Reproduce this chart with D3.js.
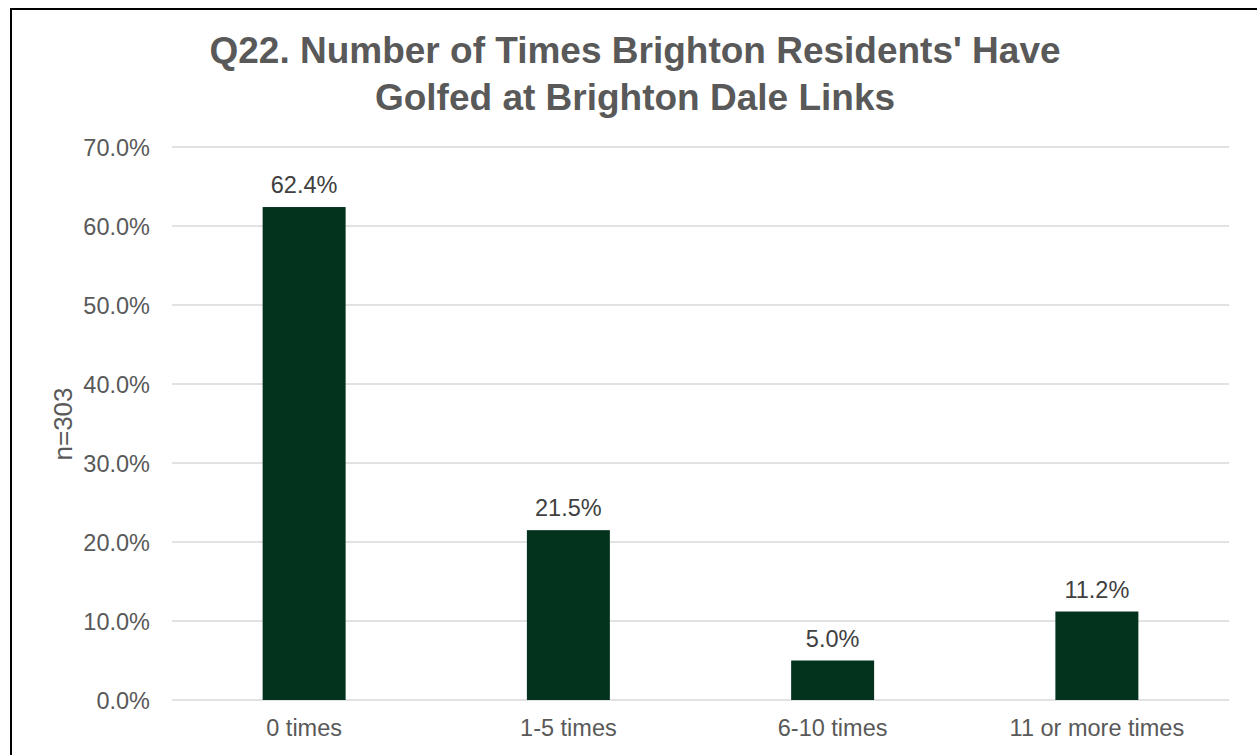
<!DOCTYPE html>
<html><head><meta charset="utf-8">
<script src="https://cdn.jsdelivr.net/npm/d3@7"></script>
<style>body{margin:0;background:#fff;}svg{display:block;font-family:"Liberation Sans",Arial,sans-serif;}</style>
</head><body>
<script>
const categories = ["0 times", "1-5 times", "6-10 times", "11 or more times"];
const values = [62.4, 21.5, 5.0, 11.2];
const yTicks = [0, 10, 20, 30, 40, 50, 60, 70];
const titleLines = ["Q22. Number of Times Brighton Residents' Have", "Golfed at Brighton Dale Links"];
const yAxisTitle = "n=303";

(function () {
const W = 1257, H = 755;
const FS = 23.5;
const svg = d3.select("body").append("svg").attr("width", W).attr("height", H);

// outer frame
svg.append("rect").attr("x", 11).attr("y", 9).attr("width", W + 10).attr("height", H + 10)
  .attr("fill", "none").attr("stroke", "#000").attr("stroke-width", 2);

const pLeft = 172, pRight = 1229, pTop = 147, pBottom = 700;
const x = d3.scaleBand().domain(categories).range([pLeft, pRight]).padding(0);
const y = d3.scaleLinear().domain([0, 70]).range([pBottom, pTop]);

// gridlines
svg.append("g").selectAll("line").data(yTicks).join("line")
  .attr("x1", pLeft).attr("x2", pRight)
  .attr("y1", d => y(d)).attr("y2", d => y(d))
  .attr("stroke", "#d9d9d9").attr("stroke-width", 1.3);

// y tick labels
const yAxis = d3.axisLeft(y).tickValues(yTicks).tickFormat(d => d.toFixed(1) + "%").tickSize(0).tickPadding(22);
const ya = svg.append("g").attr("transform", `translate(${pLeft},0)`).call(yAxis);
ya.select(".domain").remove();
ya.selectAll("text").attr("font-size", FS).attr("fill", "#595959").attr("font-family", "Liberation Sans, Arial, sans-serif").attr("dy", "0.35em");

// x axis labels
const xAxis = d3.axisBottom(x).tickSize(0).tickPadding(19);
const xa = svg.append("g").attr("transform", `translate(0,${pBottom})`).call(xAxis);
xa.select(".domain").remove();
xa.selectAll("text").attr("font-size", FS).attr("fill", "#595959").attr("font-family", "Liberation Sans, Arial, sans-serif");

// bars
const barW = x.bandwidth() * 0.314;
svg.append("g").selectAll("rect").data(values).join("rect")
  .attr("x", (d, i) => x(categories[i]) + (x.bandwidth() - barW) / 2)
  .attr("width", barW)
  .attr("y", d => y(d))
  .attr("height", d => y(0) - y(d))
  .attr("fill", "#03331d");

// data labels
svg.append("g").selectAll("text").data(values).join("text")
  .attr("x", (d, i) => x(categories[i]) + x.bandwidth() / 2)
  .attr("y", d => y(d) - 14)
  .attr("text-anchor", "middle")
  .attr("font-size", FS).attr("fill", "#404040")
  .text(d => d.toFixed(1) + "%");

// title
svg.append("text").attr("text-anchor", "middle")
  .attr("font-size", 37).attr("font-weight", "bold").attr("fill", "#595959")
  .selectAll("tspan").data(titleLines).join("tspan")
  .attr("x", 635).attr("y", (d, i) => 63 + i * 47).text(d => d);

// y axis title
svg.append("text").attr("transform", "translate(72,424) rotate(-90)")
  .attr("text-anchor", "middle").attr("font-size", 26).attr("fill", "#595959")
  .text(yAxisTitle);
})();
</script>
</body></html>
